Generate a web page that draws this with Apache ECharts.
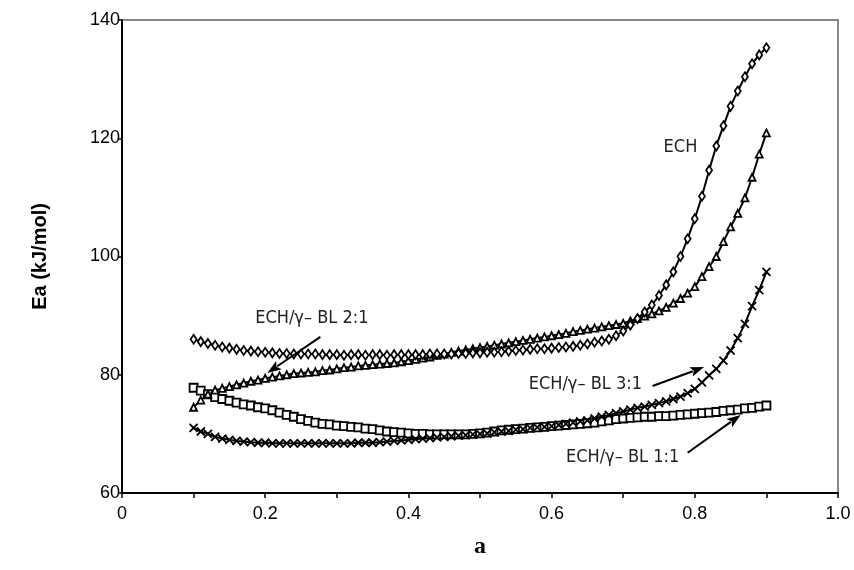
<!DOCTYPE html>
<html>
<head>
<meta charset="utf-8">
<script src="https://cdn.jsdelivr.net/npm/echarts@6/dist/echarts.min.js"></script>
<style>
  html, body { margin: 0; padding: 0; background: #fff; }
  #chart { width: 854px; height: 570px; }
</style>
</head>
<body>
<div id="chart"></div>
<script>
// conversion degree a, 0.10 .. 0.90
const alpha = [
  0.10, 0.11, 0.12, 0.13, 0.14, 0.15, 0.16, 0.17, 0.18, 0.19,
  0.20, 0.21, 0.22, 0.23, 0.24, 0.25, 0.26, 0.27, 0.28, 0.29,
  0.30, 0.31, 0.32, 0.33, 0.34, 0.35, 0.36, 0.37, 0.38, 0.39,
  0.40, 0.41, 0.42, 0.43, 0.44, 0.45, 0.46, 0.47, 0.48, 0.49,
  0.50, 0.51, 0.52, 0.53, 0.54, 0.55, 0.56, 0.57, 0.58, 0.59,
  0.60, 0.61, 0.62, 0.63, 0.64, 0.65, 0.66, 0.67, 0.68, 0.69,
  0.70, 0.71, 0.72, 0.73, 0.74, 0.75, 0.76, 0.77, 0.78, 0.79,
  0.80, 0.81, 0.82, 0.83, 0.84, 0.85, 0.86, 0.87, 0.88, 0.89,
  0.90
];

// Ea (kJ/mol)
const ech = [
  86.0, 85.6, 85.3, 85.0, 84.7, 84.5, 84.3, 84.1, 84.0, 83.9,
  83.8, 83.7, 83.6, 83.6, 83.5, 83.5, 83.5, 83.5, 83.4, 83.4,
  83.4, 83.3, 83.4, 83.4, 83.3, 83.4, 83.4, 83.3, 83.4, 83.4,
  83.4, 83.4, 83.4, 83.5, 83.5, 83.5, 83.5, 83.6, 83.6, 83.7,
  83.7, 83.8, 83.8, 83.9, 84.0, 84.1, 84.2, 84.3, 84.4, 84.4,
  84.5, 84.6, 84.7, 84.8, 85.0, 85.2, 85.5, 85.7, 86.0, 86.6,
  87.4, 88.4, 89.5, 90.6, 91.8, 93.4, 95.2, 97.4, 100.0, 103.0,
  106.4, 110.2, 114.6, 118.7, 122.1, 125.4, 128.0, 130.4, 132.6, 134.1,
  135.3
];
const bl21 = [
  74.5, 75.7, 76.7, 77.4, 77.7, 78.0, 78.3, 78.6, 78.9, 79.1,
  79.4, 79.6, 79.8, 80.0, 80.2, 80.3, 80.4, 80.5, 80.7, 80.8,
  81.0, 81.2, 81.3, 81.5, 81.6, 81.7, 81.8, 81.9, 82.0, 82.2,
  82.4, 82.6, 82.8, 83.0, 83.3, 83.5, 83.8, 84.0, 84.2, 84.4,
  84.6, 84.8, 85.0, 85.2, 85.4, 85.6, 85.8, 86.0, 86.2, 86.4,
  86.6, 86.8, 87.0, 87.3, 87.5, 87.7, 87.9, 88.1, 88.3, 88.5,
  88.7, 89.1, 89.5, 89.9, 90.3, 90.8, 91.4, 92.1, 92.9, 93.8,
  94.9, 96.6, 98.3, 100.0, 102.5, 105.0, 107.3, 109.9, 113.4, 117.3,
  120.9
];
const bl31 = [
  71.0, 70.4, 70.0, 69.5, 69.2, 69.0, 68.8, 68.7, 68.6, 68.5,
  68.5, 68.4, 68.4, 68.4, 68.4, 68.4, 68.4, 68.4, 68.4, 68.4,
  68.4, 68.4, 68.4, 68.5, 68.5, 68.5, 68.6, 68.7, 68.8, 68.9,
  69.0, 69.1, 69.2, 69.3, 69.4, 69.5, 69.6, 69.7, 69.8, 69.9,
  70.0, 70.1, 70.3, 70.4, 70.5, 70.7, 70.8, 71.0, 71.1, 71.2,
  71.3, 71.5, 71.7, 71.9, 72.1, 72.3, 72.6, 72.9, 73.2, 73.5,
  73.8, 74.1, 74.4, 74.6, 74.9, 75.2, 75.5, 75.9, 76.3, 76.9,
  77.6, 78.7, 79.9, 81.0, 82.4, 84.1, 86.2, 88.6, 91.6, 94.3,
  97.4
];
const bl11 = [
  77.8, 77.3, 76.7, 76.2, 75.9, 75.6, 75.3, 75.0, 74.8, 74.5,
  74.3, 74.0, 73.6, 73.2, 72.9, 72.5, 72.2, 71.9, 71.7, 71.6,
  71.4, 71.3, 71.2, 71.1, 70.9, 70.8, 70.6, 70.4, 70.3, 70.2,
  70.1, 70.0, 70.0, 69.9, 69.9, 69.9, 69.9, 69.9, 69.9, 70.0,
  70.1, 70.2, 70.4, 70.6, 70.7, 70.8, 70.9, 71.0, 71.1, 71.2,
  71.3, 71.4, 71.5, 71.6, 71.7, 71.8, 71.9, 72.1, 72.3, 72.5,
  72.6, 72.7, 72.8, 72.9, 72.9, 73.0, 73.0, 73.1, 73.2, 73.3,
  73.4, 73.5, 73.6, 73.7, 73.9, 74.0, 74.1, 74.3, 74.4, 74.6,
  74.8
];

// annotations, in data coordinates [a, Ea]
const notes = [
  { text: 'ECH', at: [0.780, 118.5], align: 'center' },
  { text: 'ECH/\u03b3\u2013 BL 2:1', at: [0.186, 89.6], align: 'left', from: [0.277, 86.4], to: [0.203, 80.3] },
  { text: 'ECH/\u03b3\u2013 BL 3:1', at: [0.568, 78.4], align: 'left', from: [0.741, 78.1], to: [0.813, 81.3] },
  { text: 'ECH/\u03b3\u2013 BL 1:1', at: [0.620, 66.1], align: 'left', from: [0.790, 66.8], to: [0.864, 73.2] }
];

const labelFont = 'Liberation Sans, Arial, sans-serif';
const noteFont = 'Liberation Sans Narrow, DejaVu Sans Condensed, Arial, sans-serif';

function pairs(ys) {
  return ys.map((y, i) => [alpha[i], y]);
}

function makeSeries(name, ys, symbol, size) {
  return {
    name: name,
    type: 'line',
    data: pairs(ys),
    symbol: symbol,
    symbolSize: size,
    showAllSymbol: true,
    lineStyle: { color: '#000', width: 2 },
    itemStyle: { color: '#fff', borderColor: '#000', borderWidth: 1.8 },
    emphasis: { disabled: true },
    animation: false
  };
}

const chart = echarts.init(document.getElementById('chart'));

chart.setOption({
  animation: false,
  grid: {
    left: 122,
    top: 20,
    right: 16,
    bottom: 77,
    show: true,
    borderColor: '#888',
    borderWidth: 2,
    backgroundColor: '#fff'
  },
  xAxis: {
    type: 'value',
    min: 0,
    max: 1,
    interval: 0.1,
    name: 'a',
    nameLocation: 'middle',
    nameGap: 42,
    nameTextStyle: { fontFamily: 'Liberation Serif, Times New Roman, serif', fontWeight: 'bold', fontSize: 24, color: '#000' },
    axisLine: { lineStyle: { color: '#000', width: 2 } },
    axisTick: { show: true, length: 5, lineStyle: { color: '#000', width: 1.5 } },
    axisLabel: {
      color: '#000',
      fontFamily: labelFont,
      fontSize: 18,
      margin: 12,
      formatter: function (v) {
        const k = Math.round(v * 10);
        if (k % 2 !== 0) return '';
        if (k === 0) return '0';
        return v.toFixed(1);
      }
    },
    splitLine: { show: false }
  },
  yAxis: {
    type: 'value',
    min: 60,
    max: 140,
    interval: 20,
    name: 'Ea (kJ/mol)',
    nameLocation: 'middle',
    nameGap: 72,
    nameTextStyle: { fontFamily: labelFont, fontWeight: 'bold', fontSize: 20, color: '#000' },
    axisLine: { lineStyle: { color: '#000', width: 2 } },
    axisTick: { show: true, length: 4, lineStyle: { color: '#000', width: 1.5 } },
    axisLabel: { color: '#000', fontFamily: labelFont, fontSize: 18, margin: 2 },
    splitLine: { show: false }
  },
  series: [
    makeSeries('ECH/\u03b3-BL 1:1', bl11, 'rect', 8),
    makeSeries('ECH/\u03b3-BL 3:1', bl31, 'path://M0,0L10,10M10,0L0,10', 8),
    makeSeries('ECH/\u03b3-BL 2:1', bl21, 'triangle', 7),
    makeSeries('ECH', ech, 'diamond', [6, 9])
  ]
});

// text labels and arrows placed from data coordinates
const graphics = [];
notes.forEach(function (n) {
  const p = chart.convertToPixel({ gridIndex: 0 }, n.at);
  graphics.push({
    type: 'text',
    x: p[0],
    y: p[1],
    z: 100,
    style: {
      text: n.text,
      fill: '#222',
      font: '18px ' + noteFont,
      textAlign: n.align,
      textVerticalAlign: 'middle'
    }
  });
  if (n.from) {
    const a = chart.convertToPixel({ gridIndex: 0 }, n.from);
    const b = chart.convertToPixel({ gridIndex: 0 }, n.to);
    const dx = b[0] - a[0], dy = b[1] - a[1];
    const len = Math.sqrt(dx * dx + dy * dy);
    const ux = dx / len, uy = dy / len;
    const head = 14, half = 5;
    const bx = b[0] - ux * head, by = b[1] - uy * head;
    graphics.push({
      type: 'line',
      z: 100,
      shape: { x1: a[0], y1: a[1], x2: bx + ux * 2, y2: by + uy * 2 },
      style: { stroke: '#000', lineWidth: 2 }
    });
    graphics.push({
      type: 'polygon',
      z: 100,
      shape: { points: [[b[0], b[1]], [bx - uy * half, by + ux * half], [bx + ux * 3, by + uy * 3], [bx + uy * half, by - ux * half]] },
      style: { fill: '#000' }
    });
  }
});
chart.setOption({ graphic: graphics });
</script>
</body>
</html>
